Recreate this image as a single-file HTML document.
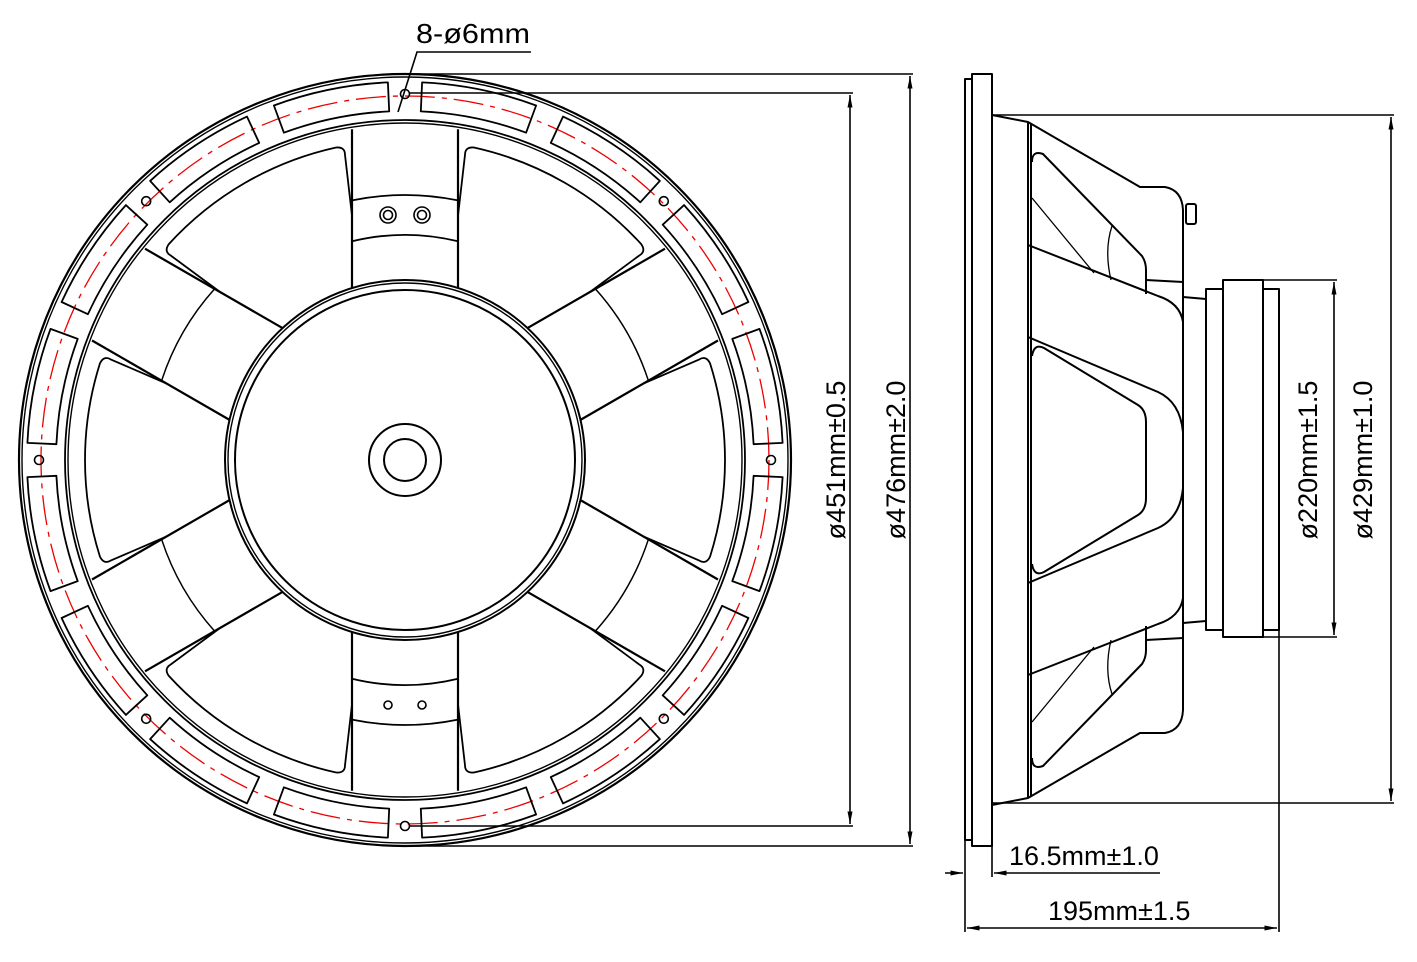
<!DOCTYPE html>
<html><head><meta charset="utf-8">
<style>
html,body{margin:0;padding:0;background:#fff;}
svg{display:block;}
text{font-family:"Liberation Sans","DejaVu Sans",sans-serif;fill:#000;}
</style></head>
<body>
<svg id="s" xmlns="http://www.w3.org/2000/svg" width="1417" height="962" viewBox="0 0 1417 962">
<defs>
<marker id="ar" viewBox="0 0 10 4" refX="10" refY="2" markerWidth="14" markerHeight="5" markerUnits="userSpaceOnUse" orient="auto-start-reverse">
<path d="M0,0 L10,2 L0,4 z" fill="#000"/>
</marker>
</defs>
<g id="front" fill="none" stroke="#000" stroke-width="2"></g>
<g fill="none" stroke="#000" stroke-width="1.6">
<line x1="405" y1="74" x2="913" y2="74"/>
<line x1="405" y1="846" x2="913" y2="846"/>
<line x1="910" y1="76" x2="910" y2="844" marker-start="url(#ar)" marker-end="url(#ar)"/>
<line x1="410" y1="93" x2="853" y2="93"/>
<line x1="410" y1="826" x2="853" y2="826"/>
<line x1="850" y1="95" x2="850" y2="824" marker-start="url(#ar)" marker-end="url(#ar)"/>
<polyline points="398,112 417,52 531,52"/>
</g>
<text x="416" y="43" font-size="28" textLength="114" lengthAdjust="spacingAndGlyphs">8-ø6mm</text>
<text transform="translate(845,460) rotate(-90)" text-anchor="middle" font-size="27">ø451mm±0.5</text>
<text transform="translate(905,460) rotate(-90)" text-anchor="middle" font-size="27">ø476mm±2.0</text>

<g fill="none" stroke="#000" stroke-width="2" stroke-linejoin="round">
<rect x="965" y="79" width="7" height="761"/>
<rect x="972" y="74" width="20" height="772"/>
<g id="half">
<path d="M992,115 L1028,122 L1140,187 L1165,187 Q1182,190 1183,210 L1183,460"/>
<line x1="1028" y1="122" x2="1028" y2="460"/>
<line x1="1031" y1="124" x2="1031" y2="460"/>
<path d="M1028,245 L1158,296 Q1180,303 1183,322"/>
<path d="M1028,337 L1158,392 Q1180,402 1183,432"/>
<path d="M1032,162 Q1032,150 1043,154 L1142,256 Q1146,262 1146,270 L1146,294"/>
<line x1="1032" y1="198" x2="1094" y2="273" stroke-width="1.3"/>
<path d="M1112,226 Q1104,250 1111,280" stroke-width="1.3"/>
<line x1="1146" y1="280" x2="1183" y2="282"/>
<path d="M1032,356 Q1034,343 1044,348 L1138,405 Q1146,410 1146,422 L1146,460"/>
<line x1="1183" y1="297" x2="1206" y2="299"/>
</g>
<use href="#half" transform="translate(0,920) scale(1,-1)"/>
<rect x="1186" y="204" width="10" height="20" rx="2"/>
<rect x="1206" y="289" width="17" height="341"/>
<rect x="1223" y="280" width="40" height="357"/>
<rect x="1263" y="289" width="16" height="341"/>
</g>
<g fill="none" stroke="#000" stroke-width="1.6">
<line x1="992" y1="115" x2="1394" y2="115"/>
<line x1="992" y1="803" x2="1394" y2="803"/>
<line x1="1391" y1="117" x2="1391" y2="801" marker-start="url(#ar)" marker-end="url(#ar)"/>
<line x1="1263" y1="280" x2="1337" y2="280"/>
<line x1="1263" y1="637" x2="1337" y2="637"/>
<line x1="1334" y1="282" x2="1334" y2="635" marker-start="url(#ar)" marker-end="url(#ar)"/>
<line x1="965" y1="840" x2="965" y2="932"/>
<line x1="992" y1="846" x2="992" y2="877"/>
<line x1="1279" y1="630" x2="1279" y2="932"/>
<line x1="945" y1="873" x2="963" y2="873" marker-end="url(#ar)"/>
<line x1="1160" y1="873" x2="994" y2="873" marker-end="url(#ar)"/>
<line x1="967" y1="928" x2="1277" y2="928" marker-start="url(#ar)" marker-end="url(#ar)"/>
</g>
<text transform="translate(1372,460) rotate(-90)" text-anchor="middle" font-size="27">ø429mm±1.0</text>
<text transform="translate(1317,460) rotate(-90)" text-anchor="middle" font-size="27">ø220mm±1.5</text>
<text x="1009" y="865" font-size="27">16.5mm±1.0</text>
<text x="1048" y="920" font-size="27">195mm±1.5</text>
</svg>
<script>
(function(){
var g=document.getElementById('front');var cx=405,cy=460,NS='http://www.w3.org/2000/svg';
function el(t,a){var e=document.createElementNS(NS,t);for(var k in a)e.setAttribute(k,a[k]);g.appendChild(e);return e;}
function P(r,deg){var a=deg*Math.PI/180;return [cx+r*Math.cos(a),cy-r*Math.sin(a)];}
function f(p){return p[0].toFixed(1)+','+p[1].toFixed(1);}
[[386,2.2],[383,1.4],[340,1.8],[337,1.4],[180,2],[177,1.4],[170,2],[36,2],[21,2]].forEach(function(c){el('circle',{cx:cx,cy:cy,r:c[0],'stroke-width':c[1]});});
el('circle',{cx:cx,cy:cy,r:364,stroke:'#e00','stroke-width':1.3,'stroke-dasharray':'30 7 5 7'});
for(var i=0;i<8;i++){var a=i*45;var h=P(366,a);el('circle',{cx:h[0],cy:h[1],r:4.5,'stroke-width':1.6});
 [[a+2.6,a+20.3],[a+24.7,a+42.4]].forEach(function(s){var r1=349,r2=378;
  var p1=P(r2,s[0]),p2=P(r2,s[1]),p3=P(r1,s[1]),p4=P(r1,s[0]);
  el('path',{d:'M'+f(p1)+' A'+r2+','+r2+' 0 0 0 '+f(p2)+' L'+f(p3)+' A'+r1+','+r1+' 0 0 1 '+f(p4)+' Z','stroke-width':1.8,'stroke-linejoin':'round'});
 });}
var W=53;
function edgeO(phi,side,R,off){var t=Math.sqrt(R*R-off*off);var a=phi*Math.PI/180;var ux=Math.cos(a),uy=-Math.sin(a);var nx=-uy*side,ny=ux*side;
 return [cx+t*ux+off*nx,cy+t*uy+off*ny];}
var sp=[30,90,150,210,270,330];
sp.forEach(function(phi){[1,-1].forEach(function(sd){var p=edgeO(phi,sd,180,W),q=edgeO(phi,sd,335,W);el('line',{x1:p[0],y1:p[1],x2:q[0],y2:q[1],'stroke-width':2.2});});});
function arcBetween(phi,R,w){var a=Math.asin(W/R)*180/Math.PI;var p1=P(R,phi-a),p2=P(R,phi+a);el('path',{d:'M'+f(p1)+' A'+R+','+R+' 0 0 0 '+f(p2),'stroke-width':w});}
[30,150,210,330].forEach(function(phi){arcBetween(phi,256,1.5);});
[90,270].forEach(function(phi){arcBetween(phi,265,1.8);arcBetween(phi,225,1.8);});
[[388,215],[422,215]].forEach(function(p){el('circle',{cx:p[0],cy:p[1],r:8,'stroke-width':1.6});el('circle',{cx:p[0],cy:p[1],r:4.5,'stroke-width':1.6});});
[[388,705],[422,705]].forEach(function(p){el('circle',{cx:p[0],cy:p[1],r:4,'stroke-width':1.6});});
[0,60,120,180,240,300].forEach(function(th){
 var phiA=th-30,phiB=th+30;var off=W+7;var R=320;
 var a1=edgeO(phiA,-1,250,W),a2=edgeO(phiA,-1,R-9,off),b2=edgeO(phiB,1,R-9,off),b1=edgeO(phiB,1,250,W);
 var c1=edgeO(phiA,-1,R-1,off),c2=edgeO(phiB,1,R-1,off);
 var angA=Math.atan2(-(c1[1]-cy),c1[0]-cx)*180/Math.PI+1.6, angB=Math.atan2(-(c2[1]-cy),c2[0]-cx)*180/Math.PI-1.6;
 var q1=P(R,angA),q2=P(R,angB);
 el('path',{d:'M'+f(a1)+' L'+f(a2)+' Q'+f(c1)+' '+f(q1)+' A'+R+','+R+' 0 0 0 '+f(q2)+' Q'+f(c2)+' '+f(b2)+' L'+f(b1),'stroke-width':1.8});
});
})();
</script>
</body></html>
